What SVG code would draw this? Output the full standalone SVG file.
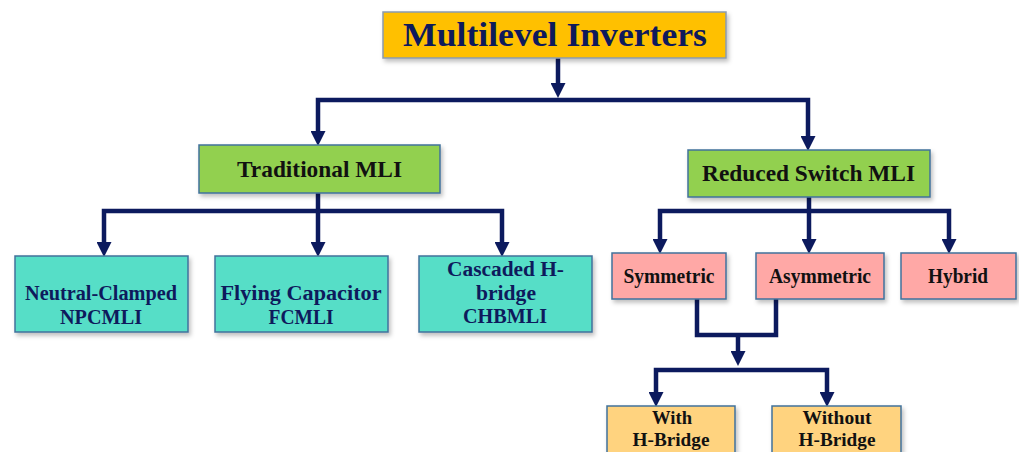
<svg xmlns="http://www.w3.org/2000/svg" width="1019" height="452" viewBox="0 0 1019 452">
<defs>
<filter id="sh" x="-10%" y="-10%" width="130%" height="140%">
<feDropShadow dx="2" dy="3" stdDeviation="2" flood-color="#000" flood-opacity="0.25"/>
</filter>
<marker id="ah" viewBox="0 0 17 15" refX="0" refY="7.5" markerWidth="17" markerHeight="15" markerUnits="userSpaceOnUse" orient="auto">
<path d="M0,0 L15,7.5 L0,15 z" transform="translate(0,0)" fill="#0c1a5e"/>
</marker>
</defs>
<style>
.box{stroke:#41719c;stroke-width:1.5;filter:url(#sh)}
.t{font-family:"Liberation Serif",serif;font-weight:bold;text-anchor:middle}
.c{fill:none;stroke:#0c1a5e;stroke-width:4.5;stroke-linejoin:miter}
.a{marker-end:url(#ah)}
.navy{fill:#0e1a5c}
.blk{fill:#111}
</style>
<rect width="1019" height="452" fill="#fff"/>
<g id="connectors">
<path class="c a" d="M558,58 V83"/>
<path class="c a" d="M558,100 H318 V131"/>
<path class="c a" d="M558,100 H808 V136"/>
<path class="c" d="M318,193 V211"/>
<path class="c a" d="M318,211 H104 V242"/>
<path class="c a" d="M318,211 V242"/>
<path class="c a" d="M318,211 H502 V242"/>
<path class="c" d="M809,197 V211"/>
<path class="c a" d="M809,211 H660 V239"/>
<path class="c a" d="M809,211 V239"/>
<path class="c a" d="M809,211 H949 V239"/>
<path class="c" d="M697,299 V335 H776 V299"/>
<path class="c a" d="M738,335 V351"/>
<path class="c a" d="M741,370 H656 V392"/>
<path class="c a" d="M741,370 H827 V392"/>
</g>
<g id="n-multilevel">
<rect class="box" x="383" y="12" width="343" height="46" fill="#ffc000" style="stroke:#8a9bb0"/>
<text class="t navy" x="555" y="46" font-size="33" textLength="304" lengthAdjust="spacingAndGlyphs">Multilevel Inverters</text>
</g>
<g id="n-traditional">
<rect class="box" x="199" y="145" width="241" height="48" fill="#92d050"/>
<text class="t blk" x="319.5" y="177" font-size="23" textLength="165" lengthAdjust="spacingAndGlyphs">Traditional MLI</text>
</g>
<g id="n-reduced">
<rect class="box" x="688" y="150" width="242" height="47" fill="#92d050"/>
<text class="t blk" x="808.5" y="181" font-size="23" textLength="213" lengthAdjust="spacingAndGlyphs">Reduced Switch MLI</text>
</g>
<g id="n-npc">
<rect class="box" x="15" y="256" width="173" height="76" fill="#57dec7"/>
<text class="t navy" x="101" y="300" font-size="20" textLength="152" lengthAdjust="spacingAndGlyphs">Neutral-Clamped</text>
<text class="t navy" x="101" y="324" font-size="20" textLength="82" lengthAdjust="spacingAndGlyphs">NPCMLI</text>
</g>
<g id="n-fc">
<rect class="box" x="215" y="256" width="173" height="76" fill="#57dec7"/>
<text class="t navy" x="301" y="300" font-size="20" textLength="161" lengthAdjust="spacingAndGlyphs">Flying Capacitor</text>
<text class="t navy" x="301" y="324" font-size="20" textLength="65" lengthAdjust="spacingAndGlyphs">FCMLI</text>
</g>
<g id="n-chb">
<rect class="box" x="419" y="256" width="173" height="76" fill="#57dec7"/>
<text class="t navy" x="505.5" y="276" font-size="20" textLength="117" lengthAdjust="spacingAndGlyphs">Cascaded H-</text>
<text class="t navy" x="506" y="300" font-size="20" textLength="60" lengthAdjust="spacingAndGlyphs">bridge</text>
<text class="t navy" x="505" y="323" font-size="20" textLength="84" lengthAdjust="spacingAndGlyphs">CHBMLI</text>
</g>
<g id="n-sym">
<rect class="box" x="612" y="253" width="114" height="46" fill="#ffa8a6"/>
<text class="t blk" x="669" y="283" font-size="20" textLength="91" lengthAdjust="spacingAndGlyphs">Symmetric</text>
</g>
<g id="n-asym">
<rect class="box" x="756" y="253" width="128" height="46" fill="#ffa8a6"/>
<text class="t blk" x="820" y="283" font-size="20" textLength="102" lengthAdjust="spacingAndGlyphs">Asymmetric</text>
</g>
<g id="n-hybrid">
<rect class="box" x="901" y="253" width="115" height="46" fill="#ffa8a6"/>
<text class="t blk" x="958" y="283" font-size="20" textLength="60" lengthAdjust="spacingAndGlyphs">Hybrid</text>
</g>
<g id="n-with">
<rect class="box" x="607" y="406" width="128" height="60" fill="#ffd37f"/>
<text class="t blk" x="672" y="424" font-size="19" textLength="40" lengthAdjust="spacingAndGlyphs">With</text>
<text class="t blk" x="671" y="446" font-size="19" textLength="77" lengthAdjust="spacingAndGlyphs">H-Bridge</text>
</g>
<g id="n-without">
<rect class="box" x="772" y="406" width="129" height="60" fill="#ffd37f"/>
<text class="t blk" x="837" y="424" font-size="19" textLength="69" lengthAdjust="spacingAndGlyphs">Without</text>
<text class="t blk" x="837" y="446" font-size="19" textLength="77" lengthAdjust="spacingAndGlyphs">H-Bridge</text>
</g>
</svg>
